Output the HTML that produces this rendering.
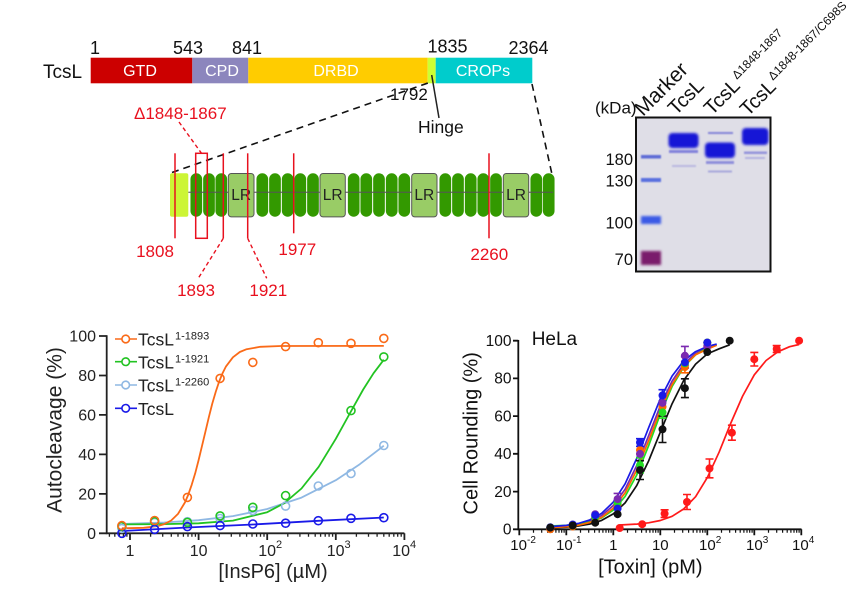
<!DOCTYPE html>
<html><head><meta charset="utf-8"><style>
html,body{margin:0;padding:0;background:#fff;}
svg{display:block;font-family:"Liberation Sans",Arial,sans-serif;}
</style></head><body>
<svg width="861" height="609" viewBox="0 0 861 609" xmlns="http://www.w3.org/2000/svg">
<defs>
<filter id="bl" x="-20%" y="-50%" width="140%" height="200%"><feGaussianBlur stdDeviation="1.3"/></filter>
<filter id="bl2" x="-20%" y="-100%" width="140%" height="300%"><feGaussianBlur stdDeviation="0.8"/></filter>
<clipPath id="gc"><rect x="636" y="117.5" width="134.5" height="154"/></clipPath>
</defs>

<!-- ===== Domain bar ===== -->
<text x="43" y="78" font-size="19" fill="#111">TcsL</text>
<rect x="90.7" y="57.7" width="101.6" height="25.6" fill="#cc0000"/>
<rect x="192.3" y="57.7" width="56" height="25.6" fill="#8c86bd"/>
<rect x="248.3" y="57.7" width="179.4" height="25.6" fill="#ffcc00"/>
<rect x="427.7" y="57.7" width="8" height="25.6" fill="#ccff33"/>
<rect x="435.7" y="57.7" width="96.6" height="25.6" fill="#00cccc"/>
<g font-size="16" fill="#fff" text-anchor="middle">
<text x="140" y="76">GTD</text>
<text x="222" y="76">CPD</text>
<text x="336" y="76">DRBD</text>
<text x="483" y="76">CROPs</text>
</g>
<g font-size="18" fill="#111">
<text x="90" y="54">1</text>
<text x="188" y="54" text-anchor="middle">543</text>
<text x="247" y="54" text-anchor="middle">841</text>
<text x="447.5" y="52.5" text-anchor="middle">1835</text>
<text x="528.5" y="54" text-anchor="middle">2364</text>
</g>
<text x="390" y="100" font-size="17" fill="#111">1792</text>
<line x1="431.7" y1="75" x2="439" y2="118" stroke="#222" stroke-width="1.5"/>
<text x="418" y="133" font-size="17.5" fill="#111">Hinge</text>
<line x1="172" y1="172.5" x2="428" y2="83" stroke="#111" stroke-width="1.6" stroke-dasharray="7 5"/>
<line x1="532" y1="84" x2="551.7" y2="173" stroke="#111" stroke-width="1.6" stroke-dasharray="7 5"/>

<text x="134" y="119" font-size="17" fill="#e8101e">Δ1848-1867</text>
<line x1="179" y1="122" x2="201.5" y2="153.3" stroke="#e8101e" stroke-width="1.4" stroke-dasharray="4 3"/>

<!-- ===== Repeat structure ===== -->
<rect x="170" y="173.3" width="18.3" height="43.4" rx="2" fill="#ccf535"/>
<g fill="#339900">
<rect x="190.45" y="173.3" width="11.7" height="43.4" rx="5.85"/>
<rect x="203.15" y="173.3" width="11.7" height="43.4" rx="5.85"/>
<rect x="215.45" y="173.3" width="11.7" height="43.4" rx="5.85"/>
<rect x="256.45" y="173.3" width="11.7" height="43.4" rx="5.85"/>
<rect x="269.15" y="173.3" width="11.7" height="43.4" rx="5.85"/>
<rect x="281.85" y="173.3" width="11.7" height="43.4" rx="5.85"/>
<rect x="294.45" y="173.3" width="11.7" height="43.4" rx="5.85"/>
<rect x="307.15" y="173.3" width="11.7" height="43.4" rx="5.85"/>
<rect x="347.85" y="173.3" width="11.7" height="43.4" rx="5.85"/>
<rect x="360.45" y="173.3" width="11.7" height="43.4" rx="5.85"/>
<rect x="373.15" y="173.3" width="11.7" height="43.4" rx="5.85"/>
<rect x="385.85" y="173.3" width="11.7" height="43.4" rx="5.85"/>
<rect x="398.45" y="173.3" width="11.7" height="43.4" rx="5.85"/>
<rect x="439.45" y="173.3" width="11.7" height="43.4" rx="5.85"/>
<rect x="452.15" y="173.3" width="11.7" height="43.4" rx="5.85"/>
<rect x="464.85" y="173.3" width="11.7" height="43.4" rx="5.85"/>
<rect x="477.45" y="173.3" width="11.7" height="43.4" rx="5.85"/>
<rect x="490.15" y="173.3" width="11.7" height="43.4" rx="5.85"/>
<rect x="530.45" y="173.3" width="11.7" height="43.4" rx="5.85"/>
<rect x="542.85" y="173.3" width="11.7" height="43.4" rx="5.85"/>
</g>
<line x1="188.3" y1="192.3" x2="553" y2="192.3" stroke="#555" stroke-width="1.3" opacity="0.75"/>
<g fill="#99cc66" stroke="#555" stroke-width="1">
<rect x="228.3" y="173.5" width="25.7" height="43.4" rx="3"/>
<rect x="320" y="173.5" width="25.3" height="43.4" rx="3"/>
<rect x="411.7" y="173.5" width="25.3" height="43.4" rx="3"/>
<rect x="503.3" y="173.5" width="25.4" height="43.4" rx="3"/>
</g>
<g font-size="15.5" fill="#222" text-anchor="middle">
<text x="241.2" y="200">LR</text>
<text x="332.7" y="200">LR</text>
<text x="424.3" y="200">LR</text>
<text x="516" y="200">LR</text>
</g>
<g stroke="#e8101e" stroke-width="1.5" fill="none">
<line x1="175" y1="153.3" x2="175" y2="238.3"/>
<rect x="195.7" y="153.3" width="11.6" height="85"/>
<line x1="223.3" y1="153.3" x2="223.3" y2="238.3"/>
<line x1="247.7" y1="153.3" x2="247.7" y2="238.3"/>
<line x1="293.7" y1="153.3" x2="293.7" y2="233.3"/>
<line x1="489" y1="153.3" x2="489" y2="238.3"/>
</g>
<g stroke="#e8101e" stroke-width="1.4" stroke-dasharray="4 3">
<line x1="223.3" y1="238.3" x2="198.3" y2="278.3"/>
<line x1="247.7" y1="238.3" x2="266.7" y2="278.3"/>
</g>
<g font-size="17" fill="#e8101e" text-anchor="middle">
<text x="155" y="257">1808</text>
<text x="196" y="296">1893</text>
<text x="268.3" y="296">1921</text>
<text x="297.3" y="255">1977</text>
<text x="489.3" y="260">2260</text>
</g>

<!-- ===== Gel ===== -->
<rect x="636" y="117.5" width="134.5" height="154" fill="#dfdee7"/>
<g clip-path="url(#gc)">
<!-- marker -->
<rect x="641" y="155" width="20" height="3.5" fill="#5d6cd6" filter="url(#bl2)"/>
<rect x="641" y="178" width="20" height="4" fill="#5a70df" filter="url(#bl2)"/>
<rect x="641" y="216" width="20" height="8" fill="#3b5ae6" filter="url(#bl)"/>
<rect x="641" y="251" width="20" height="14" fill="#7a1d6c" filter="url(#bl)"/>
<!-- lane 2 -->
<rect x="668.5" y="133" width="30" height="15" rx="4" fill="#1717d6" filter="url(#bl)"/>
<rect x="669" y="150" width="29" height="3" fill="#6a6ad8" filter="url(#bl2)" opacity="0.8"/>
<rect x="672" y="165" width="24" height="2" fill="#a8a8dc" filter="url(#bl2)" opacity="0.7"/>
<!-- lane 3 -->
<rect x="708" y="132" width="25" height="2" fill="#6e6ed4" filter="url(#bl2)" opacity="0.8"/>
<rect x="705" y="142.5" width="30" height="15.5" rx="4" fill="#1717d6" filter="url(#bl)"/>
<rect x="706" y="161" width="28" height="3" fill="#7a7ad8" filter="url(#bl2)" opacity="0.8"/>
<rect x="708" y="170.5" width="24" height="2" fill="#9a9ad8" filter="url(#bl2)" opacity="0.8"/>
<!-- lane 4 -->
<rect x="742" y="128" width="26.5" height="17" rx="4" fill="#1717d6" filter="url(#bl)"/>
<rect x="744" y="151.5" width="23" height="2.5" fill="#8080d8" filter="url(#bl2)" opacity="0.8"/>
<rect x="745" y="157" width="20" height="2" fill="#a0a0dc" filter="url(#bl2)" opacity="0.7"/>
</g>
<rect x="636" y="117.5" width="134.5" height="154" fill="none" stroke="#111" stroke-width="2"/>
<text x="595" y="113.3" font-size="17" fill="#111">(kDa)</text>
<g font-size="16.5" fill="#111" text-anchor="end">
<text x="633" y="165">180</text>
<text x="633" y="186.7">130</text>
<text x="633" y="228.3">100</text>
<text x="633" y="265">70</text>
</g>
<g fill="#111">
<text transform="translate(643,117) rotate(-45)" font-size="21">Marker</text>
<text transform="translate(676,116) rotate(-45)" font-size="20">TcsL</text>
<text transform="translate(712,116) rotate(-45)" font-size="20">TcsL<tspan font-size="12" dx="2" dy="-8">Δ1848-1867</tspan></text>
<text transform="translate(748,117) rotate(-45)" font-size="20">TcsL<tspan font-size="12" dx="2" dy="-8">Δ1848-1867/C698S</tspan></text>
</g>

<!-- ===== Left chart ===== -->
<g stroke="#222" stroke-width="1.8" fill="none">
<path d="M106.7,335.2 V533.3 H404.4"/>
<path d="M99,533.3H106.7 M99,493.9H106.7 M99,454.4H106.7 M99,414.9H106.7 M99,375.5H106.7 M99,336H106.7"/>
<path d="M130,533.3v6.7 M198.6,533.3v6.7 M267.2,533.3v6.7 M335.8,533.3v6.7 M404.4,533.3v6.7"/>
</g>
<path stroke="#222" stroke-width="1.3" fill="none" d="M109.4,533.3v3.5 M114.8,533.3v3.5 M119.4,533.3v3.5 M123.4,533.3v3.5 M126.9,533.3v3.5 M150.6,533.3v3.5 M162.7,533.3v3.5 M171.3,533.3v3.5 M178,533.3v3.5 M183.4,533.3v3.5 M188,533.3v3.5 M191.9,533.3v3.5 M195.4,533.3v3.5 M219.2,533.3v3.5 M231.3,533.3v3.5 M239.9,533.3v3.5 M246.6,533.3v3.5 M252,533.3v3.5 M256.6,533.3v3.5 M260.5,533.3v3.5 M264,533.3v3.5 M287.8,533.3v3.5 M299.9,533.3v3.5 M308.5,533.3v3.5 M315.2,533.3v3.5 M320.6,533.3v3.5 M325.2,533.3v3.5 M329.1,533.3v3.5 M332.6,533.3v3.5 M356.4,533.3v3.5 M368.5,533.3v3.5 M377.1,533.3v3.5 M383.8,533.3v3.5 M389.2,533.3v3.5 M393.8,533.3v3.5 M397.7,533.3v3.5 M401.2,533.3v3.5"/>
<g font-size="16" fill="#222" text-anchor="end">
<text x="96" y="538.8">0</text>
<text x="96" y="499.4">20</text>
<text x="96" y="459.9">40</text>
<text x="96" y="420.4">60</text>
<text x="96" y="381">80</text>
<text x="96" y="341.5">100</text>
</g>
<g font-size="16" fill="#222">
<text x="130" y="556" text-anchor="middle">1</text>
<text x="198.6" y="556" text-anchor="middle">10</text>
<text x="258.2" y="556">10<tspan font-size="11" dy="-8">2</tspan></text>
<text x="326.7" y="556">10<tspan font-size="11" dy="-8">3</tspan></text>
<text x="392.2" y="556">10<tspan font-size="11" dy="-8">4</tspan></text>
</g>
<text transform="translate(61.5,430) rotate(-90)" font-size="21" fill="#222" text-anchor="middle">Autocleavage (%)</text>
<text x="273" y="578" font-size="20" fill="#222" text-anchor="middle">[InsP6] (µM)</text>

<g fill="none" stroke-width="1.8" stroke-linejoin="round">
<polyline stroke="#8fb8e3" points="121.9,524.0 164.3,522.5 198.6,520.2 232.9,516.1 267.2,509.0 301.5,497.6 335.8,480.2 359.8,464.2 383.8,445.7"/>
<polyline stroke="#22c322" points="121.9,524.4 164.3,524.1 198.6,523.3 232.9,520.6 267.2,512.2 284.4,503.1 301.5,488.5 318.7,466.8 335.8,438.8 349.5,414.0 363.2,389.5 373.5,373.3 383.8,359.7"/>
<polyline stroke="#1a1ae8" points="121.9,531.0 187.4,527.5 252.8,524.5 318.3,520.8 383.8,517.5"/>
<polyline stroke="#fa6a18" points="121.9,528.3 143.7,527.8 157.4,526.1 164.3,524.1 171.2,520.5 178.0,513.9 184.9,502.5 188.3,494.6 191.7,484.8 195.2,473.3 198.6,460.1 202.0,445.9 205.5,431.3 208.9,416.9 212.3,403.5 215.8,391.6 219.2,381.4 222.6,373.1 226.0,366.4 232.9,357.3 239.8,352.0 246.6,349.2 260.3,346.8 280.9,346.0 383.8,345.9"/>
</g>
<g fill="none" stroke-width="1.6">
<g stroke="#8fb8e3">
<circle cx="121.9" cy="528.4" r="4"/><circle cx="154.6" cy="522.4" r="4"/><circle cx="187.4" cy="521.7" r="4"/><circle cx="220.1" cy="518.5" r="4"/><circle cx="252.8" cy="510.6" r="4"/><circle cx="285.6" cy="506.1" r="4"/><circle cx="318.3" cy="486.0" r="4"/><circle cx="351.0" cy="473.5" r="4"/><circle cx="383.8" cy="445.5" r="4"/>
</g>
<g stroke="#22c322">
<circle cx="121.9" cy="526.4" r="4"/><circle cx="154.6" cy="521.7" r="4"/><circle cx="187.4" cy="522.4" r="4"/><circle cx="220.1" cy="515.9" r="4"/><circle cx="252.8" cy="507.3" r="4"/><circle cx="285.6" cy="495.6" r="4"/><circle cx="351.0" cy="410.6" r="4"/><circle cx="383.8" cy="356.9" r="4"/>
</g>
<g stroke="#1a1ae8">
<circle cx="121.9" cy="533.3" r="4"/><circle cx="154.6" cy="529.4" r="4"/><circle cx="187.4" cy="526.6" r="4"/><circle cx="220.1" cy="525.6" r="4"/><circle cx="252.8" cy="524.0" r="4"/><circle cx="285.6" cy="523.2" r="4"/><circle cx="318.3" cy="520.7" r="4"/><circle cx="351.0" cy="518.3" r="4"/><circle cx="383.8" cy="517.7" r="4"/>
</g>
<g stroke="#fa6a18">
<circle cx="121.9" cy="525.6" r="4"/><circle cx="154.6" cy="520.5" r="4"/><circle cx="187.4" cy="497.4" r="4"/><circle cx="220.1" cy="378.4" r="4"/><circle cx="252.8" cy="362.4" r="4"/><circle cx="285.6" cy="346.6" r="4"/><circle cx="318.3" cy="342.7" r="4"/><circle cx="351.0" cy="343.3" r="4"/><circle cx="383.8" cy="338.4" r="4"/>
</g>
</g>
<!-- legend -->
<g stroke-width="1.6">
<line x1="115" y1="339" x2="137" y2="339" stroke="#fa6a18"/><circle cx="125.7" cy="339" r="3.8" fill="#fff" stroke="#fa6a18"/>
<line x1="115" y1="361.7" x2="137" y2="361.7" stroke="#22c322"/><circle cx="125.7" cy="361.7" r="3.8" fill="#fff" stroke="#22c322"/>
<line x1="115" y1="385" x2="137" y2="385" stroke="#8fb8e3"/><circle cx="125.7" cy="385" r="3.8" fill="#fff" stroke="#8fb8e3"/>
<line x1="115" y1="408.3" x2="137" y2="408.3" stroke="#1a1ae8"/><circle cx="125.7" cy="408.3" r="3.8" fill="#fff" stroke="#1a1ae8"/>
</g>
<g font-size="17.5" fill="#222">
<text x="138" y="345.7">TcsL<tspan font-size="11" dx="1" dy="-6">1-1893</tspan></text>
<text x="138" y="368.4">TcsL<tspan font-size="11" dx="1" dy="-6">1-1921</tspan></text>
<text x="138" y="391.7">TcsL<tspan font-size="11" dx="1" dy="-6">1-2260</tspan></text>
<text x="138" y="415">TcsL</text>
</g>

<!-- ===== Right chart ===== -->
<path stroke="#111" stroke-width="1.8" fill="none" d="M518.3,340 V529.3 H801.5"/>
<path stroke="#111" stroke-width="1.8" fill="none" d="M513,529.3H518.3 M513,491.6H518.3 M513,453.8H518.3 M513,416.1H518.3 M513,378.4H518.3 M513,340.7H518.3"/>
<g font-size="15.5" fill="#111" text-anchor="end">
<text x="511.5" y="534.6">0</text>
<text x="511.5" y="496.9">20</text>
<text x="511.5" y="459.1">40</text>
<text x="511.5" y="421.4">60</text>
<text x="511.5" y="383.7">80</text>
<text x="511.5" y="346">100</text>
</g>
<text transform="translate(477.5,433.3) rotate(-90)" font-size="20" fill="#111" text-anchor="middle">Cell Rounding (%)</text>
<text x="531.7" y="345" font-size="19" fill="#111">HeLa</text>

<g transform="translate(-1,0)">
<path stroke="#111" stroke-width="1.8" fill="none" d="M520.3,529.3v6 M567.3,529.3v6 M614.3,529.3v6 M661.3,529.3v6 M708.3,529.3v6 M755.3,529.3v6 M802.3,529.3v6"/>
<path stroke="#111" stroke-width="1.2" fill="none" d="M534.5,529.3v3.5 M542.7,529.3v3.5 M548.6,529.3v3.5 M553.2,529.3v3.5 M556.9,529.3v3.5 M560,529.3v3.5 M562.7,529.3v3.5 M565.1,529.3v3.5 M581.5,529.3v3.5 M589.7,529.3v3.5 M595.6,529.3v3.5 M600.2,529.3v3.5 M603.9,529.3v3.5 M607,529.3v3.5 M609.7,529.3v3.5 M612.1,529.3v3.5 M628.5,529.3v3.5 M636.7,529.3v3.5 M642.6,529.3v3.5 M647.2,529.3v3.5 M650.9,529.3v3.5 M654,529.3v3.5 M656.7,529.3v3.5 M659.1,529.3v3.5 M675.5,529.3v3.5 M683.7,529.3v3.5 M689.6,529.3v3.5 M694.2,529.3v3.5 M697.9,529.3v3.5 M701,529.3v3.5 M703.7,529.3v3.5 M706.1,529.3v3.5 M722.5,529.3v3.5 M730.7,529.3v3.5 M736.6,529.3v3.5 M741.2,529.3v3.5 M744.9,529.3v3.5 M748,529.3v3.5 M750.7,529.3v3.5 M753.1,529.3v3.5 M769.5,529.3v3.5 M777.7,529.3v3.5 M783.6,529.3v3.5 M788.2,529.3v3.5 M791.9,529.3v3.5 M795,529.3v3.5 M797.7,529.3v3.5 M800.1,529.3v3.5"/>
<g font-size="15" fill="#111">
<text x="511.3" y="550">10<tspan font-size="10" dy="-7">-2</tspan></text>
<text x="557" y="550">10<tspan font-size="10" dy="-7">-1</tspan></text>
<text x="614.3" y="550" text-anchor="middle">1</text>
<text x="661.3" y="550" text-anchor="middle">10</text>
<text x="700" y="550">10<tspan font-size="10" dy="-7">2</tspan></text>
<text x="747" y="550">10<tspan font-size="10" dy="-7">3</tspan></text>
<text x="793" y="550">10<tspan font-size="10" dy="-7">4</tspan></text>
</g>
<text x="651.3" y="573.5" font-size="20" fill="#111" text-anchor="middle">[Toxin] (pM)</text>

<g fill="none" stroke-width="1.7" stroke-linejoin="round">
<polyline stroke="#ff1a1a" points="620.7,525.0 637.8,524.1 649.6,522.8 661.3,520.5 673.1,516.3 684.8,508.9 696.6,496.7 708.3,477.6 720.1,452.2 731.8,423.1 743.6,396.1 755.3,374.8 767.1,360.5 778.8,351.8 790.6,346.7 800.1,344.5"/>
<polyline stroke="#111" points="551.3,527.8 567.3,527.1 579.1,526.0 590.8,524.0 602.6,520.4 614.3,513.9 626.1,502.9 637.8,485.4 649.6,461.0 661.3,432.2 673.1,403.7 684.8,380.3 696.6,364.1 708.3,353.9 720.1,348.8 730.7,344.8"/>
<polyline stroke="#7b2ab0" points="551.3,526.7 567.3,525.7 579.1,524.1 590.8,521.0 602.6,515.5 614.3,505.5 626.1,489.3 637.8,465.4 649.6,435.8 661.3,405.8 673.1,381.1 684.8,363.9 696.6,353.5 708.3,347.5 717.7,344.8"/>
<polyline stroke="#22dd22" points="551.3,526.0 567.3,525.3 579.1,524.2 590.8,522.1 602.6,517.9 614.3,510.1 626.1,496.5 637.8,474.8 649.6,445.8 661.3,414.1 673.1,386.5 684.8,366.9 696.6,354.8 708.3,348.1 717.7,345.0"/>
<polyline stroke="#ff6600" points="551.3,527.7 567.3,526.8 579.1,525.3 590.8,522.5 602.6,517.4 614.3,508.2 626.1,492.9 637.8,469.9 649.6,440.8 661.3,410.3 673.1,384.5 684.8,366.2 696.6,354.7 708.3,349.2 717.7,345.2"/>
<polyline stroke="#1a1ae6" points="551.3,526.6 567.3,525.4 579.1,523.5 590.8,519.9 602.6,513.4 614.3,502.1 626.1,483.8 637.8,458.2 649.6,427.8 661.3,398.8 673.1,376.0 684.8,360.7 696.6,351.6 708.3,346.5 717.7,344.1"/>
</g>

<!-- error bars -->
<g fill="none" stroke-width="1.6">
<path stroke="#ff1a1a" d="M665.6,509.8v7.6 M661.6,509.8h8 M661.6,517.4h8 M688,494.5v15 M684,494.5h8 M684,509.5h8 M710.5,459v18.8 M706.5,459h8 M706.5,477.8h8 M732.9,425.2v15 M728.9,425.2h8 M728.9,440.2h8 M755.3,352.4v13.6 M751.3,352.4h8 M751.3,366h8 M777.7,345.6v6.8 M773.7,345.6h8 M773.7,352.4h8"/>
<path stroke="#111" d="M641,460.7v18.8 M637,460.7h8 M637,479.5h8 M663.5,416.1v26.4 M659.5,416.1h8 M659.5,442.5h8 M685.9,378.8v18.8 M681.9,378.8h8 M681.9,397.6h8"/>
<path stroke="#ff6600" d="M641,446.3v7.6 M637,446.3h8 M637,453.9h8 M663.5,401v11.4 M659.5,401h8 M659.5,412.4h8 M685.9,361.4v11.4 M681.9,361.4h8 M681.9,372.8h8"/>
<path stroke="#22dd22" d="M641,457.7v15 M637,457.7h8 M637,472.7h8 M663.5,406.7v11.4 M659.5,406.7h8 M659.5,418.1h8"/>
<path stroke="#7b2ab0" d="M618.6,493.4v11.4 M614.6,493.4h8 M614.6,504.8h8 M685.9,346.4v18.8 M681.9,346.4h8 M681.9,365.2h8"/>
<path stroke="#1a1ae6" d="M641,438.7v7.6 M637,438.7h8 M637,446.3h8 M663.5,389.7v11.4 M659.5,389.7h8 M659.5,401.1h8 M685.9,356.7v11.4 M681.9,356.7h8 M681.9,368.1h8"/>
</g>

<!-- dots -->
<g fill="#ff1a1a">
<circle cx="620.7" cy="528.0" r="4"/><circle cx="643.2" cy="524.2" r="4"/><circle cx="665.6" cy="513.6" r="4"/><circle cx="688.0" cy="502.0" r="4"/><circle cx="710.5" cy="468.4" r="4"/><circle cx="732.9" cy="432.7" r="4"/><circle cx="755.3" cy="359.2" r="4"/><circle cx="777.7" cy="349.0" r="4"/><circle cx="800.1" cy="340.7" r="4"/>
</g>
<g fill="#ff6600">
<circle cx="551.3" cy="529.3" r="4"/><circle cx="573.7" cy="526.5" r="4"/><circle cx="596.2" cy="518.0" r="4"/><circle cx="618.6" cy="504.8" r="4"/><circle cx="641.0" cy="450.1" r="4"/><circle cx="663.5" cy="406.7" r="4"/><circle cx="685.9" cy="367.1" r="4"/><circle cx="708.3" cy="342.6" r="4"/>
</g>
<g fill="#22dd22">
<circle cx="551.3" cy="527.4" r="4"/><circle cx="573.7" cy="525.5" r="4"/><circle cx="596.2" cy="517.0" r="4"/><circle cx="618.6" cy="502.9" r="4"/><circle cx="641.0" cy="465.2" r="4"/><circle cx="663.5" cy="412.4" r="4"/><circle cx="685.9" cy="363.3" r="4"/><circle cx="708.3" cy="342.6" r="4"/>
</g>
<g fill="#7b2ab0">
<circle cx="551.3" cy="527.4" r="4"/><circle cx="573.7" cy="524.6" r="4"/><circle cx="596.2" cy="514.2" r="4"/><circle cx="618.6" cy="499.1" r="4"/><circle cx="641.0" cy="453.9" r="4"/><circle cx="663.5" cy="402.9" r="4"/><circle cx="685.9" cy="355.8" r="4"/><circle cx="708.3" cy="346.3" r="4"/>
</g>
<g fill="#1a1ae6">
<circle cx="551.3" cy="527.4" r="4"/><circle cx="573.7" cy="524.6" r="4"/><circle cx="596.2" cy="515.2" r="4"/><circle cx="618.6" cy="508.6" r="4"/><circle cx="641.0" cy="442.5" r="4"/><circle cx="663.5" cy="395.4" r="4"/><circle cx="685.9" cy="362.4" r="4"/><circle cx="708.3" cy="342.6" r="4"/>
</g>
<g fill="#111">
<circle cx="551.3" cy="527.6" r="4"/><circle cx="573.7" cy="525.5" r="4"/><circle cx="596.2" cy="522.7" r="4"/><circle cx="618.6" cy="514.2" r="4"/><circle cx="641.0" cy="470.1" r="4"/><circle cx="663.5" cy="429.3" r="4"/><circle cx="685.9" cy="388.2" r="4"/><circle cx="708.3" cy="352.0" r="4"/><circle cx="730.7" cy="340.7" r="4"/>
</g>
</g>
</svg>
</body></html>
